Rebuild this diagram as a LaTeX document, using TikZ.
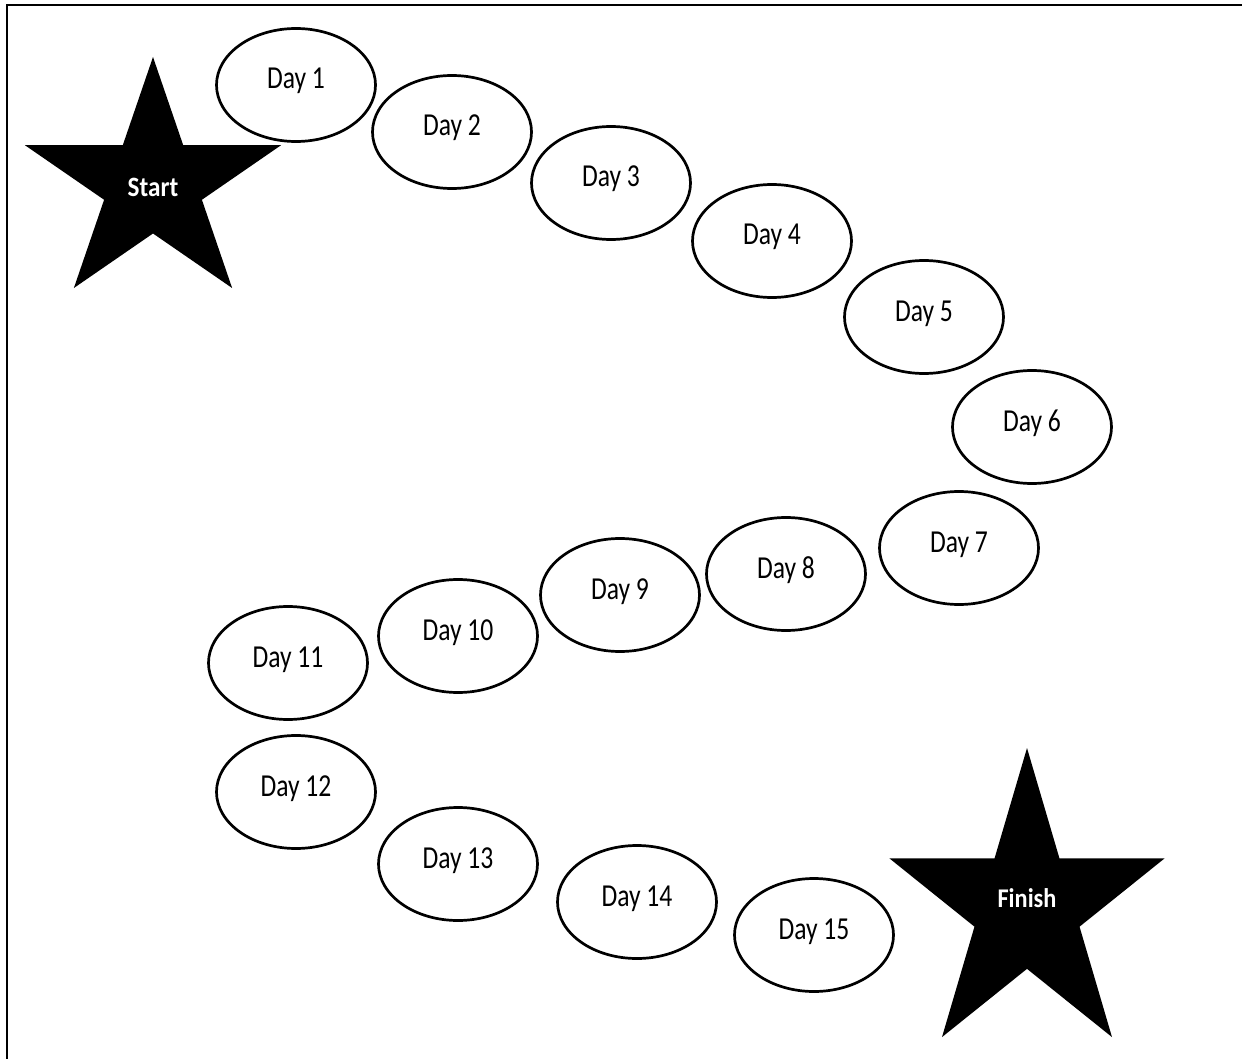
\documentclass[tikz,border=0pt]{standalone}
\usepackage{fontspec}
\usepackage{tikz}
\usetikzlibrary{shapes.geometric}
\newfontfamily\dayfont[FakeStretch=0.8]{Carlito}
\newfontfamily\starfont[FakeStretch=0.9]{Carlito Bold}
% filled five point star: centre x, centre y, x radius, y radius
\newcommand{\boardstar}[4]{%
  \fill[black,shift={(#1,#2)}] (270:#3 and #4)
    \foreach \k [evaluate=\k as \rx using {mod(\k,2)==0 ? #3 : 0.382*#3},
                 evaluate=\k as \ry using {mod(\k,2)==0 ? #4 : 0.382*#4}]
      in {1,...,9} { -- ({270+36*\k}:{\rx} and {\ry})} -- cycle;}

\begin{document}
\begin{tikzpicture}[x=1pt,y=-1pt,
      day/.style={draw=black,line width=2.7pt,ellipse,minimum width=159pt,minimum height=113pt,
        inner sep=0pt,text height=20pt,text depth=12pt,font=\dayfont\fontsize{32}{34}\selectfont},
      starlbl/.style={text=white,inner sep=0pt,font=\starfont\fontsize{28}{30}\selectfont}]
    \useasboundingbox (0,0) rectangle (1242,1059);
    \draw[line width=2.2pt] (7,1070) -- (7,5) -- (1250,5);
    % the two stars
    \boardstar{153}{184.7}{134.6}{127.7}
    \boardstar{1027}{907.8}{144.6}{159.8}
    \node[starlbl] (start) at (153,187) {Start};
    \node[starlbl,font=\starfont\fontsize{27}{30}\selectfont] (finish) at (1027,898) {Finish};
    % the days
    \node[day] (d1) at (296,85) {Day 1};
    \node[day] (d2) at (452,132) {Day 2};
    \node[day] (d3) at (611,183) {Day 3};
    \node[day] (d4) at (772,241) {Day 4};
    \node[day] (d5) at (924,317) {Day 5};
    \node[day] (d6) at (1032,427) {Day 6};
    \node[day] (d7) at (959,548) {Day 7};
    \node[day] (d8) at (786,574) {Day 8};
    \node[day] (d9) at (620,595) {Day 9};
    \node[day] (d10) at (458,636) {Day 10};
    \node[day] (d11) at (288,663) {Day 11};
    \node[day] (d12) at (296,792) {Day 12};
    \node[day] (d13) at (458,864) {Day 13};
    \node[day] (d14) at (637,902) {Day 14};
    \node[day] (d15) at (814,935) {Day 15};
  \end{tikzpicture}
\end{document}
